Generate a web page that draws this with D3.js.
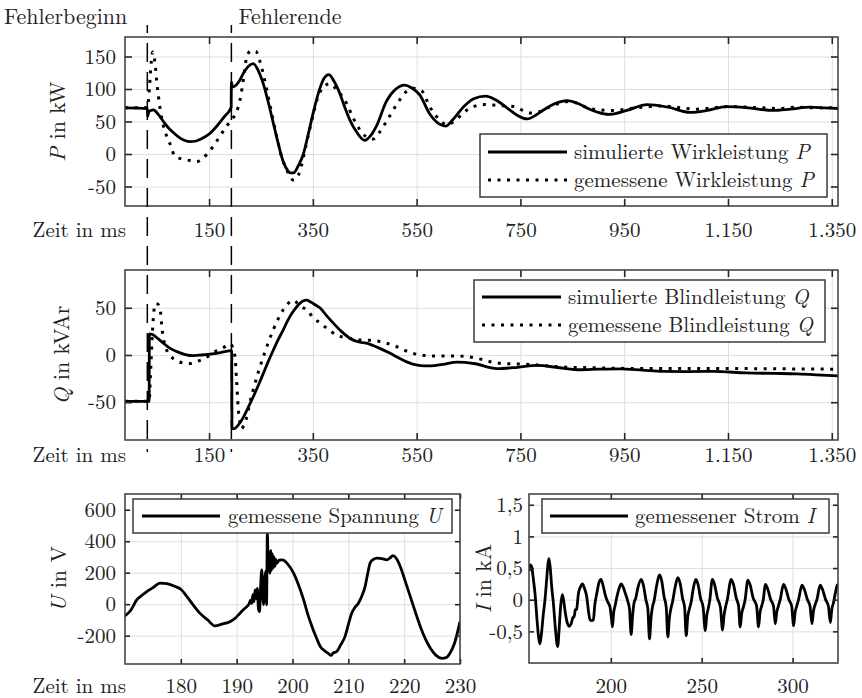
<!DOCTYPE html>
<html>
<head>
<meta charset="utf-8">
<script src="https://cdnjs.cloudflare.com/ajax/libs/d3/7.8.5/d3.min.js"></script>
<style>
    body { margin: 0; background: #fff; }
    text { font-family: "Latin Modern Roman", "CMU Serif", "Liberation Serif", "Tinos", "DejaVu Serif", "Noto Serif", "FreeSerif", "Times New Roman", Times, serif; font-size: 21px; fill: #222; }
    text.title, text.note { font-size: 22px; }
    .grid line { stroke: #dedede; stroke-width: 1; }
    .axis line { stroke: #262626; stroke-width: 1.6; }
    .frame { fill: none; stroke: #3a3a3a; stroke-width: 1.5; }
    .sim { fill: none; stroke: #000; stroke-width: 2.8; stroke-linejoin: round; }
    .meas { fill: none; stroke: #000; stroke-width: 3; stroke-dasharray: 3 6.5; }
    .fault { stroke: #000; stroke-width: 1.5; stroke-dasharray: 19 10; }
</style>
</head>
<body>
<script>
// ticks
var timeTicks = [150, 350, 550, 750, 950, 1150, 1350];
var pTicks = [-50, 0, 50, 100, 150];
var qTicks = [-50, 0, 50];
var uTimeTicks = [180, 190, 200, 210, 220, 230];
var uTicks = [-200, 0, 200, 400, 600];
var iTimeTicks = [200, 250, 300];
var iTicks = [-0.5, 0, 0.5, 1, 1.5];

var faultTimes = [31, 193];
var faultLabels = ["Fehlerbeginn", "Fehlerende"];

// Wirkleistung P in kW, [t in ms, Wert]
var pSim = [[-12,71],[31,70],[31.8,58],[33.5,64],[38,67],[43,68],[52,61],[62,50],[72,40],[81,33],[95,24],[113,19],
    [125,20],[139,25],[152,32],[165,43],[179,57],[192.6,72],[193,111],[195,103],[199,104],[208,112],[216,124],
    [226,135],[235,139],[245,128],[254.6,108],[264,80],[273.7,48],[283,17],[293,-12],[302,-26],[306,-29],[313,-29],
    [322,-18],[331,-2],[341,30],[350.6,63],[363.5,101],[372,117],[380.8,122],[390,113],[402,93],[411,73],[421,53],
    [435,33],[450,21],[461,28],[472.5,43],[491.7,81],[510,100],[527,106],[540,102],[556,91],[575,62],[594,46],
    [606,43],[620,53],[641,73],[660,85],[683,89],[703,83],[724,71],[743,60],[763,54],[780,60],[795,68],[818,78],
    [840,82],[860,78],[878,71],[900,64],[920,61],[955,67],[994,76],[1035,72],[1077,64],[1110,67],[1147,73],
    [1190,71],[1237,67],[1270,69],[1308,72],[1335,71],[1362,70]];
var pMeas = [[-12,71],[31,71],[33,80],[35,100],[37,125],[39,145],[41.5,157],[44,150],[46.5,135],[49,113],[52.6,88],
    [56,68],[62,43],[68,28],[75,15],[84.6,-4],[100,-8],[113,-10],[126,-12],[137,-7],[148.7,2],[165,20],[184,43],
    [196.7,56],[203,65],[209.6,83],[216,114],[222.5,149],[231,159],[240,158],[251,134],[264,88],[280,28],[290,-5],
    [299,-23],[306,-35],[312,-40],[318,-38],[328,-18],[336,10],[344,38],[360,88],[370,103],[382.7,108],[398,97],
    [414.8,78],[428,55],[440,38],[452,27],[466,23],[478,33],[491.7,50],[517,83],[530,96],[543,101],[560,97],
    [575,73],[595,52],[608,45],[625,52],[641,64],[660,73],[680,76],[703,75],[720,74],[737,73],[769,63],[790,66],
    [808,73],[846,81],[870,74],[897,68],[930,67],[961,70],[1000,73],[1025,74],[1060,71],[1090,69],[1120,71],
    [1154,73],[1190,72],[1218,71],[1250,70],[1282,72],[1320,71],[1362,71]];

// Blindleistung Q in kVAr
var qSim = [[-12,-49],[34.5,-49],[35,22.4],[40,22],[43,21],[50,18],[62,12.5],[75,7],[88,3.6],[104,0.5],[120,-0.7],
    [136,0],[152,1],[172,2.5],[193.6,4.7],[194.2,-78],[199,-78],[205,-75],[216,-66],[225,-56],[235,-44.5],[245,-32],
    [254.6,-19.5],[264,-7],[273.7,5],[283,16],[293,26.7],[302,37],[312,46],[322,53],[330,57],[338,58],[346,56],
    [355,53],[363.5,50],[376,42],[389,34],[405,25],[421,17.8],[437,14],[453,12.5],[466,10],[479,7],[498,2],
    [517,-3.5],[532,-7.5],[549,-10.5],[565,-11.5],[577,-11.5],[600,-10],[628,-7.5],[660,-9],[705,-14.5],[745,-13],
    [782,-11],[825,-13.5],[865,-15.6],[900,-15],[942,-14.6],[985,-16],[1025,-17.4],[1070,-17.5],[1122,-17.4],
    [1186,-19],[1240,-19.5],[1282,-20],[1320,-21],[1362,-22]];
var qMeas = [[-12,-49],[35,-49],[36,-35],[38,-10],[40,15],[42.4,38],[44.5,50],[47,54.5],[51,54],[54.5,50],[57,43],
    [59,30],[62,18],[65.4,10],[70,3],[75,-1],[83,-4.5],[91,-7],[102,-8.5],[113.5,-9],[126,-7],[139,-4.3],[152,0],
    [165,4.7],[178,8],[192,11.4],[196,7],[200,-2],[203,-26.7],[206,-55],[209,-70],[213,-78],[217,-74],[222.5,-66],
    [228,-52],[235,-37],[245,-18],[254.6,-1.8],[264,13],[273.7,26.7],[283,38],[293,48],[303,55],[312,58],[320,55],
    [328,51],[338,48],[350,40],[363.5,34],[380,27],[395.6,21],[418,18],[440,16],[460,15.5],[479,14.3],[495,12],
    [511,9],[527,5],[543,1.8],[565,-0.5],[588,-1],[620,-1],[641,-1.4],[670,-4],[705,-8.5],[740,-9.5],[769,-10],
    [800,-11.5],[833,-12.8],[890,-13.5],[961,-14.2],[1025,-14.2],[1090,-14.2],[1150,-14.3],[1218,-14.5],
    [1290,-14.8],[1362,-15]];

// Spannung U in V
var uMeas = [[170,-74],[171,-40],[172.1,27],[173,55],[173.9,80],[175,105],[176.3,134],[177.5,130],[179,112],[180,95],
    [181.1,48],[182.2,-5],[183.4,-57],[184.8,-100],[186.1,-138],[187.5,-125],[188.8,-111],[189.7,-90],[190.6,-57],
    [191.5,-25],[192.2,0],[192.5,25],[192.7,5],[192.9,60],[193.1,15],[193.3,91],[193.5,35],[193.7,100],[193.9,-30],
    [194.1,-47],[194.3,120],[194.5,218],[194.65,60],[194.8,-4],[195,150],[195.2,210],[195.35,-4],[195.5,452],
    [195.65,240],[195.8,330],[195.95,197],[196.1,340],[196.25,215],[196.4,320],[196.55,230],[196.7,300],
    [196.85,240],[197,285],[197.2,260],[197.6,280],[198.1,282],[198.6,275],[199,261],[200.2,197],[201,130],[202,27],
    [202.7,-60],[203.5,-143],[204.3,-215],[205,-270],[205.7,-295],[206.4,-312],[206.9,-325],[207.3,-310],
    [207.9,-302],[208.6,-260],[209.4,-206],[210,-130],[210.6,-57],[211.2,-20],[211.8,6],[212.4,50],[213,112],
    [213.5,200],[213.9,261],[214.5,285],[215.1,293],[216,290],[216.9,282],[217.5,295],[218,308],[218.6,290],
    [219.3,240],[220.2,145],[221.1,48],[222,-50],[222.9,-143],[223.8,-220],[224.7,-280],[225.7,-325],[226.8,-344],
    [227.5,-340],[228.2,-312],[229,-250],[230,-111]];

// Strom I in kA
var iMeas = [[155,0.45],[155.7,0.55],[156.6,0.5],[157.5,0.3],[158.3,0.1],[159.5,-0.35],[160.3,-0.6],[161,-0.7],
    [161.8,-0.55],[162.8,-0.25],[163.8,0],[164.8,0.35],[165.5,0.58],[166,0.65],[166.7,0.5],[167.5,0.2],[168.4,-0.05],
    [169.5,-0.45],[170.3,-0.68],[170.8,-0.74],[171.5,-0.5],[172.4,-0.1],[173.3,0.08],[174,0],[174.8,-0.17],
    [176,-0.36],[177,-0.42],[178.2,-0.38],[179.2,-0.28],[179.8,-0.27],[180.5,-0.16],[181.2,-0.15],[182.2,0.1],
    [183.3,0.2],[184.4,0.25],[185.5,0.18],[186.8,0.04],[187.8,-0.2],[188.6,-0.32],[189.5,-0.33],[190.4,-0.32],
    [191.2,-0.08],[192.3,0.1],[193.5,0.27],[194.6,0.32],[195.8,0.22],[196.9,0.08],[198.2,-0.03],[199.6,-0.12],
    [200.3,-0.28],[200.9,-0.43],[201.6,-0.2],[202.4,-0.09],[203.4,0.05],[204.6,0.18],[205.7,0.25],[206.8,0.2],
    [208,0.1],[209.3,-0.02],[210.3,-0.15],[211.2,-0.55],[212,-0.25],[212.8,-0.05],[213.7,0.02],[215,0.2],
    [216.7,0.32],[218,0.22],[219.3,0],[220.4,-0.15],[221.3,-0.62],[222.1,-0.3],[222.9,-0.12],[223.8,-0.02],
    [225.2,0.22],[226.8,0.39],[228,0.3],[229.3,0.05],[230.5,-0.12],[231.4,-0.59],[232.2,-0.3],[233,-0.15],
    [234,-0.03],[235.4,0.2],[236.9,0.35],[238.2,0.25],[239.5,0.02],[240.6,-0.12],[241.5,-0.57],[242.3,-0.28],
    [243.2,-0.15],[244.2,-0.04],[245.4,0.18],[246.8,0.32],[248,0.24],[249.4,0.02],[250.8,-0.12],[252,-0.49],
    [252.8,-0.25],[253.6,-0.14],[254.4,-0.02],[255.9,0.32],[257,0.25],[258.6,0.03],[260.3,-0.12],[261.5,-0.48],
    [262.3,-0.25],[263.1,-0.12],[264.1,0],[266.2,0.32],[267.5,0.24],[269,0.03],[270.3,-0.1],[271.2,-0.43],
    [272,-0.22],[272.9,-0.12],[273.9,0],[275.4,0.31],[276.7,0.23],[278.3,0.03],[280.2,-0.1],[281.3,-0.43],
    [282.1,-0.2],[283,-0.1],[283.9,0],[285,0.24],[286.3,0.17],[288,0],[289.5,-0.1],[290.5,-0.38],[291.3,-0.2],
    [292.2,-0.1],[293.2,0],[295,0.24],[296.3,0.17],[298,0],[299.5,-0.1],[300.6,-0.41],[301.4,-0.2],[302.3,-0.1],
    [303.3,0],[305.2,0.23],[306.5,0.16],[308.2,0],[309.6,-0.1],[310.7,-0.38],[311.5,-0.18],[312.4,-0.08],
    [313.4,0],[315.2,0.23],[316.5,0.16],[318.2,0],[319.7,-0.1],[320.8,-0.36],[321.6,-0.15],[322.5,-0.05],
    [323.5,0.1],[324.4,0.22],[325,0.24]];

var legendP = [["simulierte Wirkleistung ", "P", false], ["gemessene Wirkleistung ", "P", true]];
var legendQ = [["simulierte Blindleistung ", "Q", false], ["gemessene Blindleistung ", "Q", true]];
var legendU = [["gemessene Spannung ", "U", false]];
var legendI = [["gemessener Strom ", "I", false]];

var de = d3.formatLocale({decimal: ",", thousands: ".", grouping: [3], currency: ["", " €"], minus: "-"});
var deFormat = de.format(",");

var svg = d3.select("body").append("svg")
    .attr("width", 862)
    .attr("height", 698);

Panel = function(_svg, _frame, _xDomain, _yDomain, _tick){
    this.frame = _frame;
    this.tick = _tick;
    this.x = d3.scaleLinear().domain(_xDomain).range([_frame.x0, _frame.x1]);
    this.y = d3.scaleLinear().domain(_yDomain).range([_frame.y1, _frame.y0]);
    this.g = _svg.append("g");
    Panel.count = (Panel.count || 0) + 1;
    var id = "clip" + Panel.count;
    this.g.append("clipPath").attr("id", id).append("rect")
        .attr("x", _frame.x0).attr("y", _frame.y0)
        .attr("width", _frame.x1 - _frame.x0)
        .attr("height", _frame.y1 - _frame.y0);
    this.gridLayer = this.g.append("g");
    this.lineLayer = this.g.append("g").attr("clip-path", "url(#" + id + ")");
    this.axisLayer = this.g.append("g");
}

Panel.prototype.axes = function(xTicks, yTicks, xGap, yPad, xLabels){
    var f = this.frame, w = f.x1 - f.x0, h = f.y1 - f.y0, t = this.tick;

    this.gridLayer.append("g").attr("class", "grid")
        .attr("transform", "translate(0," + f.y1 + ")")
        .call(d3.axisBottom(this.x).tickValues(xTicks).tickSize(-h).tickFormat(""));
    this.gridLayer.append("g").attr("class", "grid")
        .attr("transform", "translate(" + f.x0 + ",0)")
        .call(d3.axisLeft(this.y).tickValues(yTicks).tickSize(-w).tickFormat(""));

    var bottom = this.axisLayer.append("g").attr("class", "axis")
        .attr("transform", "translate(0," + f.y1 + ")")
        .call(d3.axisBottom(this.x).tickValues(xTicks).tickSizeInner(-t).tickSizeOuter(0)
            .tickFormat(xLabels ? deFormat : ""));
    bottom.selectAll("text").attr("y", xGap).attr("dy", null);
    this.axisLayer.append("g").attr("class", "axis")
        .attr("transform", "translate(0," + f.y0 + ")")
        .call(d3.axisTop(this.x).tickValues(xTicks).tickSizeInner(-t).tickSizeOuter(0).tickFormat(""));
    this.axisLayer.append("g").attr("class", "axis")
        .attr("transform", "translate(" + f.x0 + ",0)")
        .call(d3.axisLeft(this.y).tickValues(yTicks).tickSizeInner(-t).tickSizeOuter(0)
            .tickPadding(yPad).tickFormat(deFormat));
    this.axisLayer.append("g").attr("class", "axis")
        .attr("transform", "translate(" + f.x1 + ",0)")
        .call(d3.axisRight(this.y).tickValues(yTicks).tickSizeInner(-t).tickSizeOuter(0).tickFormat(""));

    this.g.selectAll(".domain").remove();
    this.g.selectAll(".axis, .grid").attr("font-size", null).attr("font-family", null);

    this.axisLayer.append("rect").attr("class", "frame")
        .attr("x", f.x0).attr("y", f.y0)
        .attr("width", w).attr("height", h);
}

Panel.prototype.series = function(data, dotted){
    var x = this.x, y = this.y;
    var line = d3.line()
        .x(function(d){ return x(d[0]); })
        .y(function(d){ return y(d[1]); })
        .curve(d3.curveMonotoneX);
    this.lineLayer.append("path")
        .datum(data)
        .attr("class", dotted ? "meas" : "sim")
        .attr("d", line);
}

Panel.prototype.yTitle = function(sym, unit, xPos){
    var f = this.frame;
    var t = this.axisLayer.append("text").attr("class", "title")
        .attr("text-anchor", "middle")
        .attr("transform", "translate(" + xPos + "," + ((f.y0 + f.y1) / 2) + ") rotate(-90)");
    t.append("tspan").attr("font-style", "italic").text(sym);
    t.append("tspan").text(" in " + unit);
}

Panel.prototype.timeTitle = function(gap){
    this.axisLayer.append("text")
        .attr("x", this.frame.x0 + 1)
        .attr("y", this.frame.y1 + gap)
        .attr("text-anchor", "end")
        .text("Zeit in ms");
}

Panel.prototype.legend = function(box, rows){
    var l = this.axisLayer.append("g");
    l.append("rect").attr("class", "frame")
        .attr("x", box.x).attr("y", box.y)
        .attr("width", box.w).attr("height", box.h)
        .style("fill", "#fff");
    rows.forEach(function(r, i){
        var ry = box.rows[i];
        l.append("line")
            .attr("class", r[2] ? "meas" : "sim")
            .attr("x1", box.lx0).attr("x2", box.lx1)
            .attr("y1", ry).attr("y2", ry);
        var t = l.append("text").attr("class", "legend")
            .attr("x", box.tx).attr("y", ry + 6.5);
        t.append("tspan").text(r[0]);
        t.append("tspan").attr("font-style", "italic").text(r[1]);
    });
}

// Wirkleistung
var pPanel = new Panel(svg, {x0: 125, x1: 838, y0: 37, y1: 206}, [-12, 1362], [-80, 180], 7);
pPanel.axes(timeTicks, pTicks, 31, 9, true);
pPanel.series(pSim, false);
pPanel.series(pMeas, true);
pPanel.yTitle("P", "kW", 65);
pPanel.timeTitle(31);
pPanel.legend({x: 480, y: 134, w: 347, h: 63, lx0: 488, lx1: 567, tx: 574, rows: [152, 180]}, legendP);

// Blindleistung
var qPanel = new Panel(svg, {x0: 125, x1: 838, y0: 270, y1: 440}, [-12, 1362], [-90, 90], 7);
qPanel.axes(timeTicks, qTicks, 21.5, 9, true);
qPanel.series(qSim, false);
qPanel.series(qMeas, true);
qPanel.yTitle("Q", "kVAr", 69);
qPanel.timeTitle(21.5);
qPanel.legend({x: 474, y: 280, w: 351, h: 62, lx0: 482, lx1: 561, tx: 568, rows: [297, 325]}, legendQ);

// Spannung
var uPanel = new Panel(svg, {x0: 125, x1: 460, y0: 494, y1: 664}, [170, 230], [-380, 700], 5);
uPanel.axes(uTimeTicks, uTicks, 29, 9, true);
uPanel.series(uMeas, false);
uPanel.yTitle("U", "V", 66);
uPanel.timeTitle(29);
uPanel.legend({x: 133, y: 499, w: 319, h: 34, lx0: 142, lx1: 220, tx: 228, rows: [516]}, legendU);

// Strom
var iPanel = new Panel(svg, {x0: 529, x1: 838, y0: 494, y1: 663}, [155, 325], [-1, 1.67], 5);
iPanel.axes(iTimeTicks, iTicks, 30, 6, true);
iPanel.series(iMeas, false);
iPanel.yTitle("I", "kA", 491);
iPanel.legend({x: 542, y: 499, w: 287, h: 34, lx0: 550, lx1: 628, tx: 635, rows: [516]}, legendI);

// Fehlerbeginn / Fehlerende
var fx = pPanel.x;
svg.selectAll(".fault").data(faultTimes).enter().append("line")
    .attr("class", "fault")
    .attr("x1", function(d){ return fx(d); })
    .attr("x2", function(d){ return fx(d); })
    .attr("y1", 25).attr("y2", 452)
    .attr("stroke-dashoffset", 11);
svg.append("text").attr("class", "note")
    .attr("x", fx(faultTimes[0]) - 20).attr("y", 24)
    .attr("text-anchor", "end")
    .text(faultLabels[0]);
svg.append("text").attr("class", "note")
    .attr("x", fx(faultTimes[1]) + 7).attr("y", 24)
    .text(faultLabels[1]);
</script>
</body>
</html>
